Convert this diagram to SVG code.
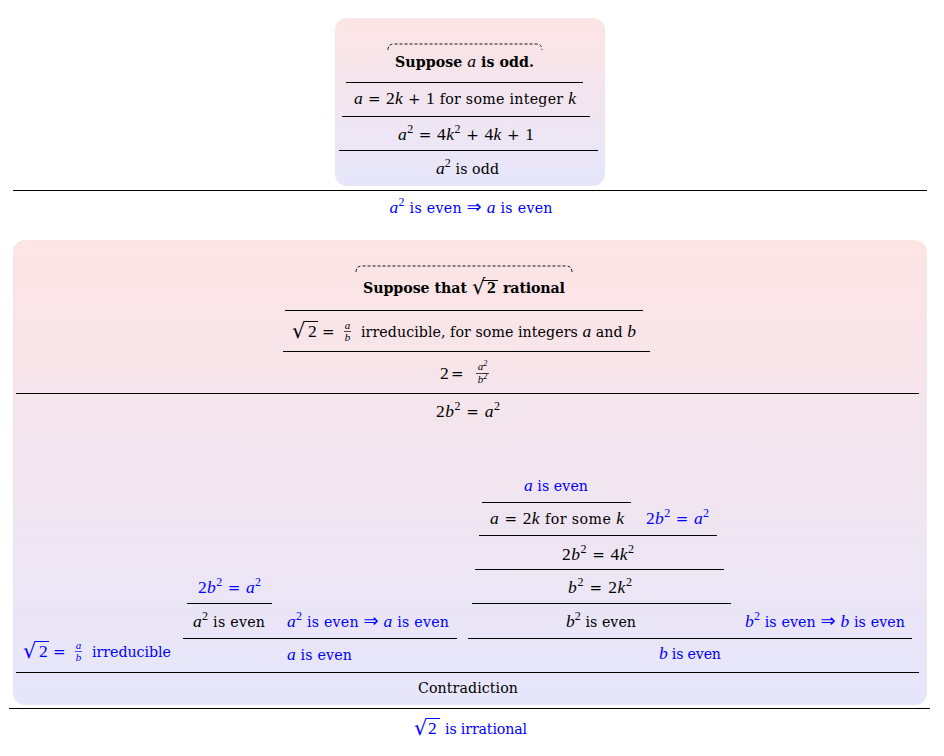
<svg xmlns="http://www.w3.org/2000/svg" width="944" height="756" viewBox="0 0 944 756">
<defs>
<linearGradient id="bg" x1="0" y1="0" x2="0" y2="1">
<stop offset="0" stop-color="#fde4e4"/>
<stop offset="1" stop-color="#e6e6fb"/>
</linearGradient>
<style>
text{font-family:"DejaVu Serif",serif;font-size:14.2px;fill:#000}
.c{text-anchor:middle}
.bl{fill:#0000ff}
.bd{font-weight:bold}
.mi{font-family:"Liberation Serif",serif;font-style:italic;font-size:17.5px}
.mn{font-family:"Liberation Serif",serif;font-size:17.5px}
.op{font-family:"DejaVu Serif",serif;font-size:15px}
.sp{font-family:"Liberation Serif",serif;font-size:12px}
.fr{font-family:"Liberation Serif",serif;font-style:italic;font-size:11px}
.fs{font-family:"Liberation Serif",serif;font-size:8px}
.rd{font-family:"DejaVu Sans",sans-serif;font-size:21px}
.ar{font-family:"DejaVu Sans",sans-serif;font-size:18px}
.rule{stroke:#000;stroke-width:1}
.ov{stroke:#000;stroke-width:1}
.ovb{stroke:#0000ff;stroke-width:1}
.fb{stroke:#000;stroke-width:0.7}
.fbb{stroke:#0000ff;stroke-width:0.7}
.dash{fill:none;stroke:#000;stroke-width:0.9;stroke-dasharray:3 2}
.box{fill:url(#bg)}
</style>
</defs>
<g id="box-odd">
<rect class="box" x="335" y="18" width="270" height="168" rx="12"/>
<path class="dash" d="M388,50 Q388,44 394,44 L536,44 Q542,44 542,50"/>
<g id="n-suppose-odd"><text class="c bd" x="464.5" y="67" textLength="139">Suppose <tspan class="mi" font-weight="normal">a</tspan> is odd.</text></g>
<g id="n-a-2k1"><text class="c" x="465" y="104" textLength="222"><tspan class="mi">a</tspan><tspan class="op"> = </tspan><tspan class="mn">2</tspan><tspan class="mi">k</tspan><tspan class="op"> + </tspan><tspan class="mn">1 </tspan>for some integer <tspan class="mi">k</tspan></text></g>
<g id="n-a2-expand"><text class="c" x="466" y="140" textLength="136"><tspan class="mi">a</tspan><tspan class="sp" dy="-7">2</tspan><tspan class="op" dy="7"> = </tspan><tspan class="mn">4</tspan><tspan class="mi">k</tspan><tspan class="sp" dy="-7">2</tspan><tspan class="op" dy="7"> + </tspan><tspan class="mn">4</tspan><tspan class="mi">k</tspan><tspan class="op"> + </tspan><tspan class="mn">1</tspan></text></g>
<g id="n-a2-odd"><text class="c" x="467.5" y="174" textLength="63"><tspan class="mi">a</tspan><tspan class="sp" dy="-7">2</tspan><tspan dy="7"> is odd</tspan></text></g>
</g>
<g id="n-lemma-a"><text class="c bl" x="471" y="213" textLength="163"><tspan class="mi">a</tspan><tspan class="sp" dy="-7">2</tspan><tspan dy="7"> is even </tspan><tspan class="ar">⇒</tspan> <tspan class="mi">a</tspan> is even</text></g>

<g id="box-sqrt2">
<rect class="box" x="13" y="240" width="914" height="465" rx="12"/>
<path class="dash" d="M356,272 Q356,266 362,266 L566,266 Q572,266 572,272"/>
<g id="n-suppose-rational">
<text class="bd" x="363" y="293" textLength="104">Suppose that</text>
<text class="rd" x="472" y="294" font-size="17">√</text>
<line class="ov" x1="482" y1="280.5" x2="498" y2="280.5"/>
<text class="mn bd" x="487" y="293" font-size="15">2</text>
<text class="bd" x="503" y="293" textLength="62">rational</text>
</g>
<g id="n-sqrt2-ab">
<text class="rd" x="292" y="338">√</text>
<line class="ov" x1="304" y1="321.5" x2="318" y2="321.5"/>
<text class="mn" x="308" y="337">2</text>
<text class="op" x="322" y="337">=</text>
<text class="fr c" x="347.5" y="329">a</text>
<line class="fb" x1="344" y1="331.5" x2="351" y2="331.5"/>
<text class="fr c" x="347.5" y="341">b</text>
<text x="361" y="337" textLength="275">irreducible, for some integers <tspan class="mi">a</tspan> and <tspan class="mi">b</tspan></text>
</g>
<g id="n-2-ab2">
<text class="mn" x="440" y="379">2</text>
<text class="op" x="451" y="379">=</text>
<text class="fr c" x="482.5" y="370">a<tspan class="fs" dy="-4">2</tspan></text>
<line class="fb" x1="476" y1="373.5" x2="489" y2="373.5"/>
<text class="fr c" x="482.5" y="383">b<tspan class="fs" dy="-4">2</tspan></text>
</g>
<g id="n-2b2-a2"><text class="c" x="468" y="417" textLength="64"><tspan class="mn">2</tspan><tspan class="mi">b</tspan><tspan class="sp" dy="-7">2</tspan><tspan class="op" dy="7"> = </tspan><tspan class="mi">a</tspan><tspan class="sp" dy="-7">2</tspan></text></g>

<g id="n-a-even-r"><text class="c bl" x="556" y="491" textLength="64"><tspan class="mi">a</tspan> is even</text></g>
<g id="n-a-2k"><text class="c" x="557" y="524" textLength="134"><tspan class="mi">a</tspan><tspan class="op"> = </tspan><tspan class="mn">2</tspan><tspan class="mi">k</tspan> for some <tspan class="mi">k</tspan></text></g>
<g id="n-2b2-a2-r"><text class="c bl" x="677.5" y="524" textLength="63"><tspan class="mn">2</tspan><tspan class="mi">b</tspan><tspan class="sp" dy="-7">2</tspan><tspan class="op" dy="7"> = </tspan><tspan class="mi">a</tspan><tspan class="sp" dy="-7">2</tspan></text></g>
<g id="n-2b2-4k2"><text class="c" x="598" y="560" textLength="72"><tspan class="mn">2</tspan><tspan class="mi">b</tspan><tspan class="sp" dy="-7">2</tspan><tspan class="op" dy="7"> = </tspan><tspan class="mn">4</tspan><tspan class="mi">k</tspan><tspan class="sp" dy="-7">2</tspan></text></g>
<g id="n-b2-2k2"><text class="c" x="600" y="593" textLength="64"><tspan class="mi">b</tspan><tspan class="sp" dy="-7">2</tspan><tspan class="op" dy="7"> = </tspan><tspan class="mn">2</tspan><tspan class="mi">k</tspan><tspan class="sp" dy="-7">2</tspan></text></g>
<g id="n-b2-even"><text class="c" x="601" y="627" textLength="70"><tspan class="mi">b</tspan><tspan class="sp" dy="-7">2</tspan><tspan dy="7"> is even</tspan></text></g>
<g id="n-lemma-b"><text class="c bl" x="825" y="627" textLength="160"><tspan class="mi">b</tspan><tspan class="sp" dy="-7">2</tspan><tspan dy="7"> is even </tspan><tspan class="ar">⇒</tspan> <tspan class="mi">b</tspan> is even</text></g>
<g id="n-b-even"><text class="c bl" x="690" y="659" textLength="62"><tspan class="mi">b</tspan> is even</text></g>

<g id="n-2b2-a2-l"><text class="c bl" x="229.5" y="593" textLength="63"><tspan class="mn">2</tspan><tspan class="mi">b</tspan><tspan class="sp" dy="-7">2</tspan><tspan class="op" dy="7"> = </tspan><tspan class="mi">a</tspan><tspan class="sp" dy="-7">2</tspan></text></g>
<g id="n-a2-even"><text class="c" x="229" y="627" textLength="72"><tspan class="mi">a</tspan><tspan class="sp" dy="-7">2</tspan><tspan dy="7"> is even</tspan></text></g>
<g id="n-lemma-a-l"><text class="c bl" x="368" y="627" textLength="162"><tspan class="mi">a</tspan><tspan class="sp" dy="-7">2</tspan><tspan dy="7"> is even </tspan><tspan class="ar">⇒</tspan> <tspan class="mi">a</tspan> is even</text></g>
<g id="n-a-even-l"><text class="c bl" x="319.5" y="660" textLength="65"><tspan class="mi">a</tspan> is even</text></g>
<g id="n-irreducible">
<text class="rd bl" x="23" y="658">√</text>
<line class="ovb" x1="35" y1="641.5" x2="49" y2="641.5"/>
<text class="mn bl" x="39" y="657">2</text>
<text class="op bl" x="53" y="657">=</text>
<text class="fr c bl" x="78.5" y="649">a</text>
<line class="fbb" x1="75" y1="651.5" x2="82" y2="651.5"/>
<text class="fr c bl" x="78.5" y="661">b</text>
<text class="bl" x="92" y="657" textLength="79">irreducible</text>
</g>
<g id="n-contradiction"><text class="c" x="468" y="693" textLength="100">Contradiction</text></g>
</g>

<g id="n-conclusion">
<text class="rd bl" x="414" y="735">√</text>
<line class="ovb" x1="426" y1="718.5" x2="440" y2="718.5"/>
<text class="mn bl" x="428" y="734">2</text>
<text class="bl" x="445" y="734" textLength="82">is irrational</text>
</g>

<g id="connectors">
<line class="rule" x1="346" y1="82.5" x2="583" y2="82.5"/>
<line class="rule" x1="342" y1="116.5" x2="590" y2="116.5"/>
<line class="rule" x1="339" y1="150.5" x2="598" y2="150.5"/>
<line class="rule" x1="13" y1="190.5" x2="927" y2="190.5"/>
<line class="rule" x1="285" y1="310.5" x2="643" y2="310.5"/>
<line class="rule" x1="283" y1="351.5" x2="650" y2="351.5"/>
<line class="rule" x1="16" y1="393.5" x2="919" y2="393.5"/>
<line class="rule" x1="482" y1="502.5" x2="631" y2="502.5"/>
<line class="rule" x1="479" y1="535.5" x2="717" y2="535.5"/>
<line class="rule" x1="475" y1="569.5" x2="724" y2="569.5"/>
<line class="rule" x1="472" y1="603.5" x2="731" y2="603.5"/>
<line class="rule" x1="468" y1="638.5" x2="912" y2="638.5"/>
<line class="rule" x1="187" y1="603.5" x2="272" y2="603.5"/>
<line class="rule" x1="183" y1="638.5" x2="457" y2="638.5"/>
<line class="rule" x1="16" y1="672.5" x2="919" y2="672.5"/>
<line class="rule" x1="9" y1="708.5" x2="930" y2="708.5"/>
</g>
</svg>
